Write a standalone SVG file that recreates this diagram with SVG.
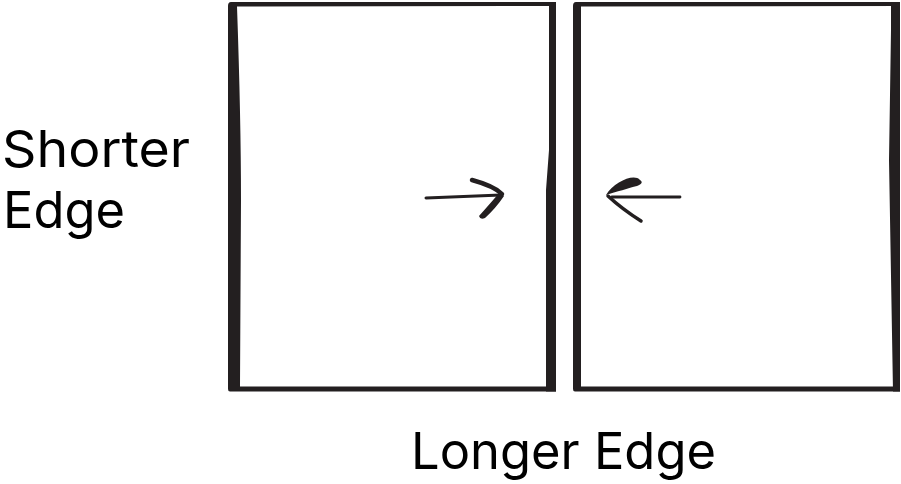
<svg xmlns="http://www.w3.org/2000/svg" width="901" height="484" viewBox="0 0 901 484">
<style>
.ink{fill:#231f20;stroke:none}
.ln{fill:none;stroke:#231f20;stroke-linecap:round;stroke-linejoin:round}
.lbl{font-family:Inter,"Noto Sans","Liberation Sans",sans-serif;font-size:51px;fill:#000}
</style>
<rect width="901" height="484" fill="#fff"/>
<g id="box-left">
<path class="ink" d="M231,2 L556,2 L556,6 L237,6.5 Q241,120 241,200 L240,386.5 L556,386.5 L556,391.5 L230,391.5 Q228,391.5 228,389 L228,6 Q228,2 231,2 Z"/>
<path class="ink" d="M549,2 L556,2 L556,391.5 L546,391.5 L546,190 L549,150 Z"/>
</g>
<g id="box-right">
<path class="ink" d="M576,2 L900,2 L900,6 L581,6.5 L581,386.5 L900,386.5 L900,391.5 L575,391.5 Q573,391.5 573,389 L573,6 Q573,2 576,2 Z"/>
<path class="ink" d="M891,2 L900,2 L900,391.5 L893,391.5 L889,160 L891,30 Z"/>
</g>
<g id="connectors">
<path class="ln" d="M426,198 L501,195" stroke-width="3"/>
<path class="ln" d="M472,180 Q494,186 502,194" stroke-width="4.5"/>
<path class="ink" d="M500,192 L504,196 Q496,208 485,218 Q480,220 479,216 Q488,206 500,192 Z"/>
<path class="ln" d="M680,197 L612,197" stroke-width="2.8"/>
<path class="ink" d="M640,180 C634,173 614,182 606,195 C616,192 629,188 637,186 C642,184 643,182 640,180 Z"/>
<path class="ln" d="M608,196 Q622,209 641,221" stroke-width="3.5"/>
</g>
<g id="labels">
<text class="lbl" x="2" y="167" textLength="188" lengthAdjust="spacingAndGlyphs">Shorter</text>
<text class="lbl" x="3" y="228" textLength="122" lengthAdjust="spacingAndGlyphs">Edge</text>
<text class="lbl" x="411" y="469" textLength="305" lengthAdjust="spacingAndGlyphs">Longer Edge</text>
</g>
</svg>
